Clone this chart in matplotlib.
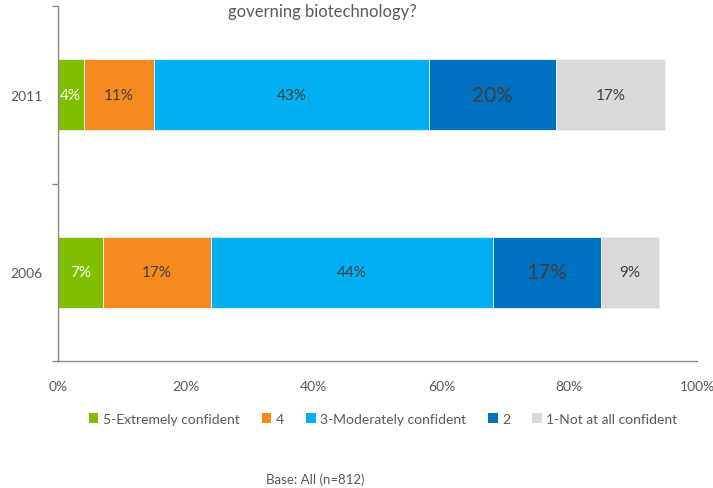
import matplotlib
matplotlib.use("Agg")
import matplotlib.pyplot as plt
from matplotlib.patches import Patch

years = ["2006", "2011"]
series_names = ["5-Extremely confident", "4", "3-Moderately confident", "2", "1-Not at all confident"]
values_2006 = [7, 17, 44, 17, 9]
values_2011 = [4, 11, 43, 20, 17]
x_ticks = [0, 20, 40, 60, 80, 100]
x_tick_labels = ["0%", "20%", "40%", "60%", "80%", "100%"]

colors = ["#80BF00", "#F58A20", "#00B0F0", "#0070C0", "#D9D9D9"]
label_colors = ["white", "#404040", "#404040", "#404040", "#404040"]
label_sizes = [11, 11, 11, 15, 11]

plt.rcParams["font.family"] = ["Lato", "DejaVu Sans"]
text_color = "#595959"

fig = plt.figure(figsize=(7.13, 4.89), dpi=100)
ax = fig.add_axes([58 / 713, 1 - 362 / 489, (697 - 58) / 713, (362 - 7) / 489])

rows = [values_2006, values_2011]
for yi, vals in enumerate(rows):
    left = 0
    for si, v in enumerate(vals):
        ax.barh(yi, v, left=left, height=0.4, color=colors[si],
                edgecolor="#EAF2F8", linewidth=0.6)
        ax.text(left + v / 2, yi, f"{v}%", ha="center", va="center",
                color=label_colors[si], fontsize=label_sizes[si])
        left += v

ax.set_xlim(0, 100)
ax.set_ylim(-0.5, 1.5)
ax.set_xticks(x_ticks)
ax.set_xticklabels(x_tick_labels, fontsize=10, color=text_color)
ax.set_yticks([0, 1])
ax.set_yticklabels(years, fontsize=10, color=text_color)
ax.set_yticks([-0.5, 0.5, 1.5], minor=True)
ax.tick_params(axis="y", which="major", length=0, pad=11)
ax.tick_params(axis="y", which="minor", length=4, color="#8C8C8C", width=1)
ax.tick_params(axis="x", which="major", length=0, pad=14)

for side in ["top", "right"]:
    ax.spines[side].set_visible(False)
for side in ["left", "bottom"]:
    ax.spines[side].set_color("#8C8C8C")
    ax.spines[side].set_linewidth(1)

handles = [Patch(facecolor=c, edgecolor="none") for c in colors]
fig.legend(handles, series_names, loc="center", bbox_to_anchor=(383 / 713, 1 - 420 / 489),
           ncol=5, frameon=False, fontsize=10, labelcolor=text_color,
           handlelength=0.7, handleheight=0.7, handletextpad=0.3, columnspacing=1.6)

fig.text(322 / 713, 1 - 12 / 489, "governing biotechnology?", ha="center", va="center",
         fontsize=12, color=text_color)
fig.text(315 / 713, 1 - 480 / 489, "Base: All (n=812)", ha="center", va="center",
         fontsize=9.5, color=text_color)

fig.savefig("out.png", dpi=100)
